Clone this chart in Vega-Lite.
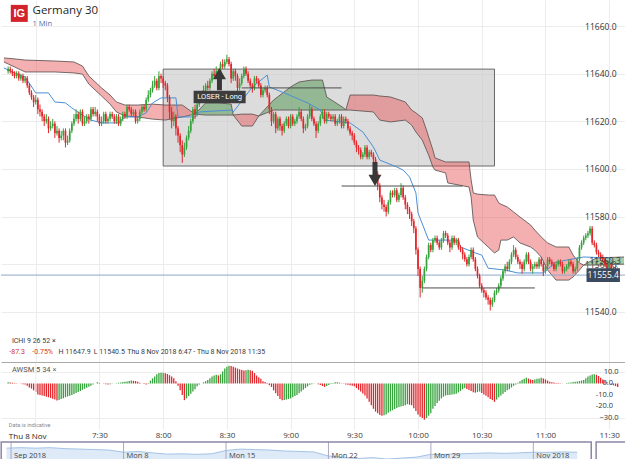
{
"$schema": "https://vega.github.io/schema/vega-lite/v6.json",
"padding": 0,
"spacing": 0,
"background": "#ffffff",
"config": {"view": {"stroke": null}, "font": "Open Sans"},
"vconcat": [
{
"width": 625, "height": 362,
"layer": [
{
"data": {"values": [{"t1":"08:00:00","t2":"10:36:00","p1":11601.2,"p2":11641.9}], "format": {"parse": {"t1":"date:'%H:%M:%S'","t2":"date:'%H:%M:%S'"}}},
"mark": {"type":"rect","fill":"#c6c6c6","fillOpacity":0.62,"stroke":"#6a6a6a","strokeWidth":1},
"encoding": {
"x": {"field":"t1","type":"temporal","scale":{"domain":[{"year":1900,"month":1,"date":1,"hours":6,"minutes":46},{"year":1900,"month":1,"date":1,"hours":11,"minutes":35,"seconds":34}]},
 "axis":{"title":null,"orient":"bottom","labels":false,"ticks":false,"domain":true,"domainColor":"#a9a9a9","grid":true,"gridColor":"#ececec",
 "values":[{"year":1900,"month":1,"date":1,"hours":7,"minutes":0},{"year":1900,"month":1,"date":1,"hours":7,"minutes":30},{"year":1900,"month":1,"date":1,"hours":8,"minutes":0},{"year":1900,"month":1,"date":1,"hours":8,"minutes":30},{"year":1900,"month":1,"date":1,"hours":9,"minutes":0},{"year":1900,"month":1,"date":1,"hours":9,"minutes":30},{"year":1900,"month":1,"date":1,"hours":10,"minutes":0},{"year":1900,"month":1,"date":1,"hours":10,"minutes":30},{"year":1900,"month":1,"date":1,"hours":11,"minutes":0},{"year":1900,"month":1,"date":1,"hours":11,"minutes":30}]}},
"x2": {"field":"t2"},
"y": {"field":"p1","type":"quantitative","scale":{"domain":[11518.9,11670.92],"zero":false,"nice":false},
 "axis":{"title":null,"orient":"right","offset":-10,"values":[11540,11560,11580,11600,11620,11640,11660],"format":".1f","ticks":false,"domain":false,"grid":true,"gridColor":"#ececec","labelFontSize":8.5,"labelColor":"#333333","labelPadding":0,"labelAlign":"right","labelOverlap":false}},
"y2": {"field":"p2"}
}
},
{
"data": {"values": [
{"s":"r1","t":"06:45","hi":11646.6,"lo":11644.9},
{"s":"r1","t":"06:51","hi":11646.1,"lo":11642.4},
{"s":"r1","t":"06:55","hi":11645.7,"lo":11640.7},
{"s":"r1","t":"07:09","hi":11645.3,"lo":11640.7},
{"s":"r1","t":"07:18","hi":11644.9,"lo":11640.3},
{"s":"r1","t":"07:22","hi":11643.2,"lo":11639.8},
{"s":"r1","t":"07:25","hi":11639.0,"lo":11635.6},
{"s":"r1","t":"07:31","hi":11634.0,"lo":11630.6},
{"s":"r1","t":"07:35","hi":11631.0,"lo":11627.2},
{"s":"r1","t":"07:38","hi":11628.1,"lo":11623.9},
{"s":"r1","t":"07:42","hi":11626.8,"lo":11622.2},
{"s":"r1","t":"07:48","hi":11626.8,"lo":11621.8},
{"s":"r1","t":"07:55","hi":11627.2,"lo":11620.9},
{"s":"r1","t":"08:01","hi":11626.8,"lo":11620.5},
{"s":"r1","t":"08:09","hi":11626.8,"lo":11621.8},
{"s":"r1","t":"08:15","hi":11623.0,"lo":11623.0},
{"s":"g1","t":"08:15","hi":11623.0,"lo":11623.0},
{"s":"g1","t":"08:20","hi":11627.7,"lo":11622.6},
{"s":"g1","t":"08:26","hi":11627.7,"lo":11622.6},
{"s":"g1","t":"08:32","hi":11627.2,"lo":11622.6},
{"s":"g1","t":"08:33","hi":11622.6,"lo":11622.6},
{"s":"r2","t":"08:33","hi":11622.6,"lo":11622.6},
{"s":"r2","t":"08:37","hi":11623.0,"lo":11618.0},
{"s":"r2","t":"08:42","hi":11623.0,"lo":11618.0},
{"s":"r2","t":"08:45","hi":11622.2,"lo":11622.2},
{"s":"g2","t":"08:45","hi":11622.2,"lo":11622.2},
{"s":"g2","t":"08:52","hi":11628.9,"lo":11624.7},
{"s":"g2","t":"09:00","hi":11634.4,"lo":11624.7},
{"s":"g2","t":"09:04","hi":11636.5,"lo":11624.7},
{"s":"g2","t":"09:10","hi":11637.3,"lo":11624.7},
{"s":"g2","t":"09:15","hi":11637.3,"lo":11624.7},
{"s":"g2","t":"09:17","hi":11630.2,"lo":11624.7},
{"s":"g2","t":"09:25","hi":11625.6,"lo":11624.7},
{"s":"g2","t":"09:26","hi":11624.7,"lo":11624.7},
{"s":"r3","t":"09:26","hi":11624.7,"lo":11624.7},
{"s":"r3","t":"09:28","hi":11631.0,"lo":11624.7},
{"s":"r3","t":"09:39","hi":11631.0,"lo":11623.9},
{"s":"r3","t":"09:42","hi":11630.6,"lo":11620.5},
{"s":"r3","t":"09:47","hi":11630.2,"lo":11619.7},
{"s":"r3","t":"09:54","hi":11628.1,"lo":11620.5},
{"s":"r3","t":"09:57","hi":11624.7,"lo":11618.4},
{"s":"r3","t":"09:59","hi":11623.5,"lo":11615.5},
{"s":"r3","t":"10:02","hi":11621.4,"lo":11612.1},
{"s":"r3","t":"10:04","hi":11616.3,"lo":11607.9},
{"s":"r3","t":"10:05","hi":11613.4,"lo":11605.8},
{"s":"r3","t":"10:07","hi":11607.9,"lo":11600.8},
{"s":"r3","t":"10:08","hi":11604.6,"lo":11599.5},
{"s":"r3","t":"10:13","hi":11602.9,"lo":11598.3},
{"s":"r3","t":"10:14","hi":11602.9,"lo":11594.1},
{"s":"r3","t":"10:24","hi":11602.9,"lo":11592.4},
{"s":"r3","t":"10:25","hi":11595.3,"lo":11588.2},
{"s":"r3","t":"10:26","hi":11589.9,"lo":11578.5},
{"s":"r3","t":"10:28","hi":11589.4,"lo":11571.4},
{"s":"r3","t":"10:33","hi":11589.0,"lo":11567.2},
{"s":"r3","t":"10:36","hi":11589.0,"lo":11564.7},
{"s":"r3","t":"10:38","hi":11585.7,"lo":11565.9},
{"s":"r3","t":"10:39","hi":11585.2,"lo":11570.1},
{"s":"r3","t":"10:42","hi":11584.0,"lo":11570.1},
{"s":"r3","t":"10:45","hi":11581.9,"lo":11571.4},
{"s":"r3","t":"10:48","hi":11579.8,"lo":11568.9},
{"s":"r3","t":"10:53","hi":11576.4,"lo":11567.2},
{"s":"r3","t":"10:55","hi":11574.3,"lo":11565.9},
{"s":"r3","t":"10:58","hi":11571.4,"lo":11563.0},
{"s":"r3","t":"11:01","hi":11568.9,"lo":11557.5},
{"s":"r3","t":"11:05","hi":11567.2,"lo":11553.3},
{"s":"r3","t":"11:11","hi":11567.2,"lo":11553.3},
{"s":"r3","t":"11:13","hi":11563.8,"lo":11554.6},
{"s":"r3","t":"11:16","hi":11560.5,"lo":11557.5},
{"s":"r3","t":"11:18","hi":11559.6,"lo":11559.6},
{"s":"g3","t":"11:18","hi":11559.6,"lo":11559.6},
{"s":"g3","t":"11:24","hi":11562.6,"lo":11559.6},
{"s":"g3","t":"11:37","hi":11563.0,"lo":11560.0}
], "format": {"parse": {"t":"date:'%H:%M'"}}},
"layer": [
{
"mark": {"type":"area","opacity":0.45,"clip":true},
"encoding": {
"x": {"field":"t","type":"temporal"},
"y": {"field":"hi","type":"quantitative","stack":null},
"y2": {"field":"lo"},
"detail": {"field":"s","type":"nominal"},
"color": {"field":"s","type":"nominal","scale":{"domain":["r1","r2","r3","g1","g2","g3"],"range":["#e65050","#e65050","#e65050","#3c8c3c","#3c8c3c","#3c8c3c"]},"legend":null}
}
},
{
"mark": {"type":"line","color":"#5f5252","strokeWidth":1,"opacity":0.85,"clip":true},
"encoding": {"x": {"field":"t","type":"temporal"},"y": {"field":"hi","type":"quantitative"},"detail": {"field":"s","type":"nominal"}}
},
{
"mark": {"type":"line","color":"#5f5252","strokeWidth":1,"opacity":0.85,"clip":true},
"encoding": {"x": {"field":"t","type":"temporal"},"y": {"field":"lo","type":"quantitative"},"detail": {"field":"s","type":"nominal"}}
}
]
},
{
"data": {"values": [
{"t":"06:45","p":11642.4},{"t":"06:49","p":11640.7},{"t":"06:55","p":11638.6},{"t":"07:00","p":11631.9},
{"t":"07:06","p":11631.9},{"t":"07:09","p":11628.1},{"t":"07:14","p":11627.7},{"t":"07:17","p":11625.6},
{"t":"07:22","p":11622.6},{"t":"07:26","p":11620.5},{"t":"07:31","p":11619.3},{"t":"07:39","p":11619.3},
{"t":"07:42","p":11621.8},{"t":"07:48","p":11621.8},{"t":"07:52","p":11623.5},{"t":"07:55","p":11627.7},
{"t":"07:59","p":11629.8},{"t":"08:06","p":11629.8},{"t":"08:07","p":11621.8},{"t":"08:15","p":11621.8},
{"t":"08:17","p":11623.9},{"t":"08:32","p":11624.7},{"t":"08:33","p":11623.9},{"t":"08:42","p":11634.4},
{"t":"08:49","p":11639.4},{"t":"08:50","p":11634.4},{"t":"08:57","p":11631.9},{"t":"09:08","p":11627.7},
{"t":"09:14","p":11624.7},{"t":"09:16","p":11620.5},{"t":"09:28","p":11619.3},{"t":"09:34","p":11615.5},
{"t":"09:39","p":11609.2},{"t":"09:42","p":11603.7},{"t":"09:50","p":11600.8},{"t":"09:53","p":11599.5},
{"t":"09:56","p":11596.6},{"t":"09:59","p":11589.9},{"t":"10:00","p":11581.5},{"t":"10:05","p":11570.1},
{"t":"10:19","p":11570.1},{"t":"10:20","p":11567.2},{"t":"10:27","p":11564.7},{"t":"10:30","p":11563.8},
{"t":"10:33","p":11558.3},{"t":"10:41","p":11557.5},{"t":"10:47","p":11556.3},{"t":"10:59","p":11556.3},
{"t":"11:05","p":11560.9},{"t":"11:18","p":11563.0},{"t":"11:30","p":11562.6},{"t":"11:34","p":11558.5}
], "format": {"parse": {"t":"date:'%H:%M'"}}},
"mark": {"type":"line","color":"#4a8fd6","strokeWidth":1,"clip":true},
"encoding": {"x": {"field":"t","type":"temporal"},"y": {"field":"p","type":"quantitative"}}
},
{
"data": {"values": [{"p":11555.4}]},
"mark": {"type":"rule","color":"#8fa7c9","strokeWidth":1},
"encoding": {"y": {"field":"p","type":"quantitative"}}
},
{
"data": {"values": [
{"t":"06:47","o":11641,"h":11643,"l":11640,"c":11642},
{"t":"06:48","o":11642,"h":11643,"l":11640,"c":11641},
{"t":"06:49","o":11641,"h":11642,"l":11639,"c":11640},
{"t":"06:50","o":11640,"h":11641,"l":11638,"c":11639},
{"t":"06:51","o":11639,"h":11641,"l":11638,"c":11640},
{"t":"06:52","o":11640,"h":11641,"l":11637,"c":11638},
{"t":"06:53","o":11638,"h":11640,"l":11637,"c":11639},
{"t":"06:54","o":11639,"h":11640,"l":11636,"c":11637},
{"t":"06:55","o":11637,"h":11639,"l":11636,"c":11638},
{"t":"06:56","o":11638,"h":11639,"l":11634,"c":11635},
{"t":"06:57","o":11635,"h":11636,"l":11631,"c":11632},
{"t":"06:58","o":11632,"h":11633,"l":11629,"c":11630},
{"t":"06:59","o":11630,"h":11631,"l":11626,"c":11628},
{"t":"07:00","o":11628,"h":11631,"l":11627,"c":11629},
{"t":"07:01","o":11629,"h":11630,"l":11623,"c":11625},
{"t":"07:02","o":11625,"h":11627,"l":11622,"c":11624},
{"t":"07:03","o":11624,"h":11625,"l":11620,"c":11622},
{"t":"07:04","o":11622,"h":11623,"l":11618,"c":11620},
{"t":"07:05","o":11620,"h":11623,"l":11619,"c":11621},
{"t":"07:06","o":11621,"h":11622,"l":11615,"c":11617},
{"t":"07:07","o":11617,"h":11620,"l":11616,"c":11618},
{"t":"07:08","o":11618,"h":11621,"l":11617,"c":11619},
{"t":"07:09","o":11619,"h":11620,"l":11613,"c":11615},
{"t":"07:10","o":11615,"h":11618,"l":11614,"c":11616},
{"t":"07:11","o":11616,"h":11617,"l":11611,"c":11613},
{"t":"07:12","o":11613,"h":11616,"l":11612,"c":11614},
{"t":"07:13","o":11614,"h":11617,"l":11612,"c":11616},
{"t":"07:14","o":11616,"h":11617,"l":11609,"c":11611},
{"t":"07:15","o":11611,"h":11614,"l":11610,"c":11612},
{"t":"07:16","o":11612,"h":11617,"l":11611,"c":11616},
{"t":"07:17","o":11616,"h":11620,"l":11615,"c":11619},
{"t":"07:18","o":11619,"h":11623,"l":11618,"c":11621},
{"t":"07:19","o":11621,"h":11625,"l":11620,"c":11623},
{"t":"07:20","o":11623,"h":11624,"l":11619,"c":11621},
{"t":"07:21","o":11621,"h":11625,"l":11620,"c":11624},
{"t":"07:22","o":11624,"h":11625,"l":11618,"c":11619},
{"t":"07:23","o":11619,"h":11622,"l":11618,"c":11620},
{"t":"07:24","o":11620,"h":11623,"l":11619,"c":11622},
{"t":"07:25","o":11622,"h":11623,"l":11619,"c":11621},
{"t":"07:26","o":11621,"h":11626,"l":11620,"c":11625},
{"t":"07:27","o":11625,"h":11626,"l":11622,"c":11623},
{"t":"07:28","o":11623,"h":11626,"l":11622,"c":11624},
{"t":"07:29","o":11624,"h":11625,"l":11620,"c":11622},
{"t":"07:30","o":11622,"h":11623,"l":11618,"c":11619},
{"t":"07:31","o":11619,"h":11622,"l":11618,"c":11620},
{"t":"07:32","o":11620,"h":11624,"l":11619,"c":11623},
{"t":"07:33","o":11623,"h":11624,"l":11619,"c":11620},
{"t":"07:34","o":11620,"h":11622,"l":11619,"c":11621},
{"t":"07:35","o":11621,"h":11624,"l":11620,"c":11623},
{"t":"07:36","o":11623,"h":11624,"l":11621,"c":11622},
{"t":"07:37","o":11622,"h":11623,"l":11619,"c":11620},
{"t":"07:38","o":11620,"h":11623,"l":11619,"c":11622},
{"t":"07:39","o":11622,"h":11623,"l":11618,"c":11619},
{"t":"07:40","o":11619,"h":11622,"l":11618,"c":11621},
{"t":"07:41","o":11621,"h":11624,"l":11620,"c":11623},
{"t":"07:42","o":11623,"h":11624,"l":11621,"c":11622},
{"t":"07:43","o":11622,"h":11627,"l":11621,"c":11626},
{"t":"07:44","o":11626,"h":11627,"l":11624,"c":11625},
{"t":"07:45","o":11625,"h":11626,"l":11622,"c":11623},
{"t":"07:46","o":11623,"h":11625,"l":11622,"c":11624},
{"t":"07:47","o":11624,"h":11625,"l":11619,"c":11620},
{"t":"07:48","o":11620,"h":11622,"l":11619,"c":11621},
{"t":"07:49","o":11621,"h":11625,"l":11620,"c":11624},
{"t":"07:50","o":11624,"h":11627,"l":11623,"c":11626},
{"t":"07:51","o":11626,"h":11627,"l":11624,"c":11625},
{"t":"07:52","o":11625,"h":11630,"l":11624,"c":11629},
{"t":"07:53","o":11629,"h":11633,"l":11628,"c":11631},
{"t":"07:54","o":11631,"h":11634,"l":11630,"c":11633},
{"t":"07:55","o":11633,"h":11637,"l":11632,"c":11635},
{"t":"07:56","o":11635,"h":11639,"l":11634,"c":11637},
{"t":"07:57","o":11637,"h":11638,"l":11633,"c":11634},
{"t":"07:58","o":11634,"h":11641,"l":11633,"c":11639},
{"t":"07:59","o":11639,"h":11640,"l":11636,"c":11638},
{"t":"08:00","o":11638,"h":11639,"l":11634,"c":11636},
{"t":"08:01","o":11636,"h":11637,"l":11633,"c":11635},
{"t":"08:02","o":11635,"h":11636,"l":11628,"c":11630},
{"t":"08:03","o":11630,"h":11631,"l":11621,"c":11624},
{"t":"08:04","o":11624,"h":11626,"l":11617,"c":11620},
{"t":"08:05","o":11620,"h":11624,"l":11618,"c":11622},
{"t":"08:06","o":11622,"h":11623,"l":11614,"c":11617},
{"t":"08:07","o":11617,"h":11618,"l":11611,"c":11614},
{"t":"08:08","o":11614,"h":11615,"l":11607,"c":11610},
{"t":"08:09","o":11610,"h":11612,"l":11602.5,"c":11606},
{"t":"08:10","o":11606,"h":11611,"l":11605,"c":11609},
{"t":"08:11","o":11609,"h":11614,"l":11608,"c":11613},
{"t":"08:12","o":11613,"h":11618,"l":11612,"c":11616},
{"t":"08:13","o":11616,"h":11621,"l":11615,"c":11620},
{"t":"08:14","o":11620,"h":11626,"l":11619,"c":11625},
{"t":"08:15","o":11625,"h":11627,"l":11621,"c":11623},
{"t":"08:16","o":11623,"h":11628,"l":11622,"c":11627},
{"t":"08:17","o":11627,"h":11631,"l":11626,"c":11629},
{"t":"08:18","o":11629,"h":11632,"l":11628,"c":11631},
{"t":"08:19","o":11631,"h":11635,"l":11630,"c":11633},
{"t":"08:20","o":11633,"h":11636,"l":11632,"c":11635},
{"t":"08:21","o":11635,"h":11637,"l":11633,"c":11634},
{"t":"08:22","o":11634,"h":11638,"l":11633,"c":11637},
{"t":"08:23","o":11637,"h":11641,"l":11636,"c":11640},
{"t":"08:24","o":11640,"h":11642,"l":11638,"c":11639},
{"t":"08:25","o":11639,"h":11643,"l":11638,"c":11641},
{"t":"08:26","o":11641,"h":11642,"l":11637,"c":11639},
{"t":"08:27","o":11639,"h":11645,"l":11638,"c":11644},
{"t":"08:28","o":11644,"h":11646,"l":11642,"c":11643},
{"t":"08:29","o":11643,"h":11646,"l":11642,"c":11645},
{"t":"08:30","o":11645,"h":11647.9,"l":11644,"c":11646},
{"t":"08:31","o":11646,"h":11647,"l":11643,"c":11644},
{"t":"08:32","o":11644,"h":11645,"l":11636,"c":11638},
{"t":"08:33","o":11638,"h":11642,"l":11637,"c":11641},
{"t":"08:34","o":11641,"h":11642,"l":11637,"c":11639},
{"t":"08:35","o":11639,"h":11640,"l":11632,"c":11634},
{"t":"08:36","o":11634,"h":11638,"l":11633,"c":11636},
{"t":"08:37","o":11636,"h":11640,"l":11635,"c":11639},
{"t":"08:38","o":11639,"h":11643,"l":11638,"c":11642},
{"t":"08:39","o":11642,"h":11643,"l":11639,"c":11640},
{"t":"08:40","o":11640,"h":11641,"l":11636,"c":11637},
{"t":"08:41","o":11637,"h":11638,"l":11634,"c":11635},
{"t":"08:42","o":11635,"h":11636,"l":11632,"c":11634},
{"t":"08:43","o":11634,"h":11639,"l":11633,"c":11638},
{"t":"08:44","o":11638,"h":11639,"l":11636,"c":11637},
{"t":"08:45","o":11637,"h":11638,"l":11634,"c":11635},
{"t":"08:46","o":11635,"h":11636,"l":11630,"c":11631},
{"t":"08:47","o":11631,"h":11634,"l":11630,"c":11633},
{"t":"08:48","o":11633,"h":11635,"l":11632,"c":11634},
{"t":"08:49","o":11634,"h":11635,"l":11630,"c":11631},
{"t":"08:50","o":11631,"h":11632,"l":11623,"c":11625},
{"t":"08:51","o":11625,"h":11626,"l":11618,"c":11620},
{"t":"08:52","o":11620,"h":11624,"l":11619,"c":11623},
{"t":"08:53","o":11623,"h":11624,"l":11615,"c":11617},
{"t":"08:54","o":11617,"h":11622,"l":11616,"c":11621},
{"t":"08:55","o":11621,"h":11622,"l":11616,"c":11618},
{"t":"08:56","o":11618,"h":11619,"l":11614,"c":11616},
{"t":"08:57","o":11616,"h":11620,"l":11615,"c":11619},
{"t":"08:58","o":11619,"h":11622,"l":11618,"c":11621},
{"t":"08:59","o":11621,"h":11622,"l":11617,"c":11618},
{"t":"09:00","o":11618,"h":11623,"l":11617,"c":11622},
{"t":"09:01","o":11622,"h":11623,"l":11618,"c":11619},
{"t":"09:02","o":11619,"h":11621,"l":11618,"c":11620},
{"t":"09:03","o":11620,"h":11623,"l":11619,"c":11622},
{"t":"09:04","o":11622,"h":11626,"l":11621,"c":11624},
{"t":"09:05","o":11624,"h":11625,"l":11620,"c":11621},
{"t":"09:06","o":11621,"h":11622,"l":11615,"c":11617},
{"t":"09:07","o":11617,"h":11619,"l":11616,"c":11618},
{"t":"09:08","o":11618,"h":11623,"l":11617,"c":11622},
{"t":"09:09","o":11622,"h":11627,"l":11621,"c":11625},
{"t":"09:10","o":11625,"h":11626,"l":11620,"c":11621},
{"t":"09:11","o":11621,"h":11622,"l":11618,"c":11619},
{"t":"09:12","o":11619,"h":11620,"l":11613,"c":11616},
{"t":"09:13","o":11616,"h":11620,"l":11615,"c":11619},
{"t":"09:14","o":11619,"h":11623,"l":11618,"c":11622},
{"t":"09:15","o":11622,"h":11625,"l":11621,"c":11624},
{"t":"09:16","o":11624,"h":11625,"l":11619,"c":11620},
{"t":"09:17","o":11620,"h":11624,"l":11619,"c":11623},
{"t":"09:18","o":11623,"h":11624,"l":11621,"c":11622},
{"t":"09:19","o":11622,"h":11623,"l":11620,"c":11621},
{"t":"09:20","o":11621,"h":11623,"l":11620,"c":11622},
{"t":"09:21","o":11622,"h":11623,"l":11618,"c":11619},
{"t":"09:22","o":11619,"h":11621,"l":11618,"c":11620},
{"t":"09:23","o":11620,"h":11623,"l":11619,"c":11622},
{"t":"09:24","o":11622,"h":11623,"l":11617,"c":11618},
{"t":"09:25","o":11618,"h":11622,"l":11617,"c":11621},
{"t":"09:26","o":11621,"h":11622,"l":11619,"c":11620},
{"t":"09:27","o":11620,"h":11621,"l":11616,"c":11617},
{"t":"09:28","o":11617,"h":11618,"l":11614,"c":11615},
{"t":"09:29","o":11615,"h":11616,"l":11612,"c":11614},
{"t":"09:30","o":11614,"h":11615,"l":11610,"c":11611},
{"t":"09:31","o":11611,"h":11612,"l":11607,"c":11609},
{"t":"09:32","o":11609,"h":11610,"l":11606,"c":11608},
{"t":"09:33","o":11608,"h":11609,"l":11604,"c":11605},
{"t":"09:34","o":11605,"h":11607,"l":11604,"c":11606},
{"t":"09:35","o":11606,"h":11610,"l":11605,"c":11609},
{"t":"09:36","o":11609,"h":11610,"l":11604,"c":11605},
{"t":"09:37","o":11605,"h":11608,"l":11604,"c":11607},
{"t":"09:38","o":11607,"h":11608,"l":11605,"c":11606},
{"t":"09:39","o":11606,"h":11607,"l":11602,"c":11604},
{"t":"09:40","o":11604,"h":11605,"l":11596,"c":11598},
{"t":"09:41","o":11598,"h":11599,"l":11591,"c":11593},
{"t":"09:42","o":11593,"h":11594,"l":11586,"c":11588},
{"t":"09:43","o":11588,"h":11589,"l":11583,"c":11585},
{"t":"09:44","o":11585,"h":11587,"l":11582,"c":11584},
{"t":"09:45","o":11584,"h":11585,"l":11580,"c":11582},
{"t":"09:46","o":11582,"h":11587,"l":11581,"c":11586},
{"t":"09:47","o":11586,"h":11591,"l":11585,"c":11590},
{"t":"09:48","o":11590,"h":11591,"l":11588,"c":11589},
{"t":"09:49","o":11589,"h":11592,"l":11588,"c":11591},
{"t":"09:50","o":11591,"h":11592,"l":11586,"c":11587},
{"t":"09:51","o":11587,"h":11590,"l":11586,"c":11589},
{"t":"09:52","o":11589,"h":11594,"l":11588,"c":11592},
{"t":"09:53","o":11592,"h":11593,"l":11587,"c":11588},
{"t":"09:54","o":11588,"h":11589,"l":11583,"c":11585},
{"t":"09:55","o":11585,"h":11586,"l":11581,"c":11583},
{"t":"09:56","o":11583,"h":11584,"l":11579,"c":11581},
{"t":"09:57","o":11581,"h":11582,"l":11576,"c":11578},
{"t":"09:58","o":11578,"h":11579,"l":11573,"c":11575},
{"t":"09:59","o":11575,"h":11576,"l":11564,"c":11566},
{"t":"10:00","o":11566,"h":11567,"l":11555,"c":11558},
{"t":"10:01","o":11558,"h":11559,"l":11546,"c":11550},
{"t":"10:02","o":11550,"h":11555,"l":11548,"c":11553},
{"t":"10:03","o":11553,"h":11559,"l":11552,"c":11558},
{"t":"10:04","o":11558,"h":11564,"l":11557,"c":11563},
{"t":"10:05","o":11563,"h":11569,"l":11562,"c":11568},
{"t":"10:06","o":11568,"h":11569,"l":11565,"c":11566},
{"t":"10:07","o":11566,"h":11571,"l":11565,"c":11570},
{"t":"10:08","o":11570,"h":11572,"l":11569,"c":11571},
{"t":"10:09","o":11571,"h":11572,"l":11568,"c":11569},
{"t":"10:10","o":11569,"h":11570,"l":11566,"c":11567},
{"t":"10:11","o":11567,"h":11571,"l":11566,"c":11570},
{"t":"10:12","o":11570,"h":11574,"l":11569,"c":11573},
{"t":"10:13","o":11573,"h":11574,"l":11571,"c":11572},
{"t":"10:14","o":11572,"h":11573,"l":11568,"c":11569},
{"t":"10:15","o":11569,"h":11570,"l":11565,"c":11567},
{"t":"10:16","o":11567,"h":11572,"l":11566,"c":11571},
{"t":"10:17","o":11571,"h":11572,"l":11568,"c":11569},
{"t":"10:18","o":11569,"h":11571,"l":11568,"c":11570},
{"t":"10:19","o":11570,"h":11571,"l":11566,"c":11567},
{"t":"10:20","o":11567,"h":11568,"l":11565,"c":11566},
{"t":"10:21","o":11566,"h":11567,"l":11562,"c":11564},
{"t":"10:22","o":11564,"h":11565,"l":11561,"c":11562},
{"t":"10:23","o":11562,"h":11563,"l":11559,"c":11560},
{"t":"10:24","o":11560,"h":11564,"l":11559,"c":11563},
{"t":"10:25","o":11563,"h":11567,"l":11562,"c":11566},
{"t":"10:26","o":11566,"h":11567,"l":11561,"c":11562},
{"t":"10:27","o":11562,"h":11563,"l":11557,"c":11558},
{"t":"10:28","o":11558,"h":11559,"l":11554,"c":11555},
{"t":"10:29","o":11555,"h":11556,"l":11550,"c":11551},
{"t":"10:30","o":11551,"h":11552,"l":11548,"c":11549},
{"t":"10:31","o":11549,"h":11550,"l":11546,"c":11548},
{"t":"10:32","o":11548,"h":11549,"l":11545,"c":11546},
{"t":"10:33","o":11546,"h":11547,"l":11543,"c":11545},
{"t":"10:34","o":11545,"h":11546,"l":11540.5,"c":11543},
{"t":"10:35","o":11543,"h":11546,"l":11542,"c":11545},
{"t":"10:36","o":11545,"h":11549,"l":11544,"c":11548},
{"t":"10:37","o":11548,"h":11550,"l":11547,"c":11549},
{"t":"10:38","o":11549,"h":11552,"l":11548,"c":11551},
{"t":"10:39","o":11551,"h":11555,"l":11550,"c":11554},
{"t":"10:40","o":11554,"h":11558,"l":11553,"c":11557},
{"t":"10:41","o":11557,"h":11560,"l":11556,"c":11559},
{"t":"10:42","o":11559,"h":11561,"l":11557,"c":11558},
{"t":"10:43","o":11558,"h":11562,"l":11557,"c":11561},
{"t":"10:44","o":11561,"h":11565,"l":11560,"c":11564},
{"t":"10:45","o":11564,"h":11568,"l":11563,"c":11566},
{"t":"10:46","o":11566,"h":11567,"l":11562,"c":11563},
{"t":"10:47","o":11563,"h":11564,"l":11560,"c":11561},
{"t":"10:48","o":11561,"h":11562,"l":11558,"c":11560},
{"t":"10:49","o":11560,"h":11561,"l":11556,"c":11558},
{"t":"10:50","o":11558,"h":11562,"l":11557,"c":11561},
{"t":"10:51","o":11561,"h":11565,"l":11560,"c":11564},
{"t":"10:52","o":11564,"h":11565,"l":11560,"c":11561},
{"t":"10:53","o":11561,"h":11562,"l":11557,"c":11558},
{"t":"10:54","o":11558,"h":11560,"l":11556,"c":11559},
{"t":"10:55","o":11559,"h":11561,"l":11558,"c":11560},
{"t":"10:56","o":11560,"h":11561,"l":11558,"c":11559},
{"t":"10:57","o":11559,"h":11563,"l":11558,"c":11562},
{"t":"10:58","o":11562,"h":11563,"l":11559,"c":11560},
{"t":"10:59","o":11560,"h":11561,"l":11555,"c":11557},
{"t":"11:00","o":11557,"h":11560,"l":11556,"c":11559},
{"t":"11:01","o":11559,"h":11563,"l":11558,"c":11562},
{"t":"11:02","o":11562,"h":11563,"l":11560,"c":11561},
{"t":"11:03","o":11561,"h":11562,"l":11559,"c":11560},
{"t":"11:04","o":11560,"h":11561,"l":11557,"c":11558},
{"t":"11:05","o":11558,"h":11561,"l":11557,"c":11560},
{"t":"11:06","o":11560,"h":11562,"l":11559,"c":11561},
{"t":"11:07","o":11561,"h":11562,"l":11559,"c":11560},
{"t":"11:08","o":11560,"h":11561,"l":11556,"c":11557},
{"t":"11:09","o":11557,"h":11559,"l":11556,"c":11558},
{"t":"11:10","o":11558,"h":11560,"l":11557,"c":11559},
{"t":"11:11","o":11559,"h":11562,"l":11558,"c":11561},
{"t":"11:12","o":11561,"h":11562,"l":11559,"c":11560},
{"t":"11:13","o":11560,"h":11561,"l":11556,"c":11557},
{"t":"11:14","o":11557,"h":11559,"l":11556,"c":11558},
{"t":"11:15","o":11558,"h":11563,"l":11557,"c":11562},
{"t":"11:16","o":11562,"h":11568,"l":11561,"c":11567},
{"t":"11:17","o":11567,"h":11570,"l":11566,"c":11569},
{"t":"11:18","o":11569,"h":11572,"l":11568,"c":11571},
{"t":"11:19","o":11571,"h":11573,"l":11570,"c":11572},
{"t":"11:20","o":11572,"h":11574,"l":11571,"c":11573},
{"t":"11:21","o":11573,"h":11576,"l":11572,"c":11575},
{"t":"11:22","o":11575,"h":11576,"l":11568,"c":11569},
{"t":"11:23","o":11569,"h":11570,"l":11567,"c":11568},
{"t":"11:24","o":11568,"h":11569,"l":11564,"c":11565},
{"t":"11:25","o":11565,"h":11566,"l":11563,"c":11564},
{"t":"11:26","o":11564,"h":11565,"l":11562,"c":11563},
{"t":"11:27","o":11563,"h":11564,"l":11561,"c":11562},
{"t":"11:28","o":11562,"h":11563,"l":11559,"c":11560},
{"t":"11:29","o":11560,"h":11561,"l":11557,"c":11558},
{"t":"11:30","o":11558,"h":11561,"l":11557,"c":11560},
{"t":"11:31","o":11560,"h":11561,"l":11556,"c":11557},
{"t":"11:32","o":11557,"h":11559,"l":11556,"c":11558},
{"t":"11:33","o":11558,"h":11559,"l":11555,"c":11557},
{"t":"11:34","o":11557,"h":11558,"l":11553,"c":11555.4}
], "format": {"parse": {"t":"date:'%H:%M'"}}},
"layer": [
{
"mark": {"type":"rule","strokeWidth":1},
"encoding": {
"x": {"field":"t","type":"temporal"},
"y": {"field":"l","type":"quantitative"},
"y2": {"field":"h"},
"color": {"condition":{"test":"datum.c >= datum.o","value":"#35a23c"},"value":"#e3262b"}
}
},
{
"mark": {"type":"bar","size":1.7},
"encoding": {
"x": {"field":"t","type":"temporal"},
"y": {"field":"o","type":"quantitative"},
"y2": {"field":"c"},
"color": {"condition":{"test":"datum.c >= datum.o","value":"#35a23c"},"value":"#e3262b"}
}
}
]
},
{
"data": {"values": [
 {"t1":"08:37:00","t2":"09:24:00","p":11634.0},
 {"t1":"09:24:00","t2":"10:21:00","p":11592.8},
 {"t1":"10:02:00","t2":"10:55:00","p":11550.0}
], "format": {"parse": {"t1":"date:'%H:%M:%S'","t2":"date:'%H:%M:%S'"}}},
"mark": {"type":"rule","color":"#4d4d4d","strokeWidth":1},
"encoding": {"x": {"field":"t1","type":"temporal"},"x2": {"field":"t2"},"y": {"field":"p","type":"quantitative"}}
},
{
"data": {"values": [
 {"t":"08:26:30","p1":11633.0,"p2":11638.6},
 {"t":"09:39:44","p1":11597.3,"p2":11602.9}
], "format": {"parse": {"t":"date:'%H:%M:%S'"}}},
"mark": {"type":"rule","color":"#383838","strokeWidth":5},
"encoding": {"x": {"field":"t","type":"temporal"},"y": {"field":"p1","type":"quantitative"},"y2": {"field":"p2"}}
},
{
"data": {"values": [{"t":"08:26:30","p":11640.0}], "format": {"parse": {"t":"date:'%H:%M:%S'"}}},
"mark": {"type":"point","shape":"triangle-up","filled":true,"size":170,"color":"#383838","opacity":1},
"encoding": {"x": {"field":"t","type":"temporal"},"y": {"field":"p","type":"quantitative"}}
},
{
"data": {"values": [{"t":"09:39:44","p":11595.2}], "format": {"parse": {"t":"date:'%H:%M:%S'"}}},
"mark": {"type":"point","shape":"triangle-down","filled":true,"size":170,"color":"#383838","opacity":1},
"encoding": {"x": {"field":"t","type":"temporal"},"y": {"field":"p","type":"quantitative"}}
},
{
"data": {"values": [{"t1":"08:14:20","t2":"08:38:50","p1":11627.6,"p2":11632.8}], "format": {"parse": {"t1":"date:'%H:%M:%S'","t2":"date:'%H:%M:%S'"}}},
"mark": {"type":"rect","fill":"#3d3d3d"},
"encoding": {"x": {"field":"t1","type":"temporal"},"x2": {"field":"t2"},"y": {"field":"p1","type":"quantitative"},"y2": {"field":"p2"}}
},
{
"data": {"values": [{"t":"08:26:35","p":11630.2,"txt":"LOSER - Long"}], "format": {"parse": {"t":"date:'%H:%M:%S'"}}},
"mark": {"type":"text","color":"#ffffff","fontSize":7.5,"font":"Roboto","align":"center","baseline":"middle"},
"encoding": {"x": {"field":"t","type":"temporal"},"y": {"field":"p","type":"quantitative"},"text": {"field":"txt","type":"nominal"}}
},
{
"data": {"values": [{"t":"11:20:42","p":11561.2,"txt":"11560.3"}], "format": {"parse": {"t":"date:'%H:%M:%S'"}}},
"mark": {"type":"text","color":"#333333","fontSize":8.5,"align":"left","baseline":"middle"},
"encoding": {"x": {"field":"t","type":"temporal"},"y": {"field":"p","type":"quantitative"},"text": {"field":"txt","type":"nominal"}}
},
{
"data": {"values": [{"t1":"11:19:20","t2":"11:35:04","p1":11552.5,"p2":11558.3}], "format": {"parse": {"t1":"date:'%H:%M:%S'","t2":"date:'%H:%M:%S'"}}},
"mark": {"type":"rect","fill":"#3b4b5f"},
"encoding": {"x": {"field":"t1","type":"temporal"},"x2": {"field":"t2"},"y": {"field":"p1","type":"quantitative"},"y2": {"field":"p2"}}
},
{
"data": {"values": [{"t":"11:27:12","p":11555.4,"txt":"11555.4"}], "format": {"parse": {"t":"date:'%H:%M:%S'"}}},
"mark": {"type":"text","color":"#ffffff","fontSize":8.5,"align":"center","baseline":"middle"},
"encoding": {"x": {"field":"t","type":"temporal"},"y": {"field":"p","type":"quantitative"},"text": {"field":"txt","type":"nominal"}}
},
{
"data": {"values": [{"t":"06:52:15","p":11665.3}], "format": {"parse": {"t":"date:'%H:%M:%S'"}}},
"mark": {"type":"square","size":289,"color":"#d3232a","opacity":1},
"encoding": {"x": {"field":"t","type":"temporal"},"y": {"field":"p","type":"quantitative"}}
},
{
"data": {"values": [{"t":"06:52:15","p":11665.3,"txt":"IG"}], "format": {"parse": {"t":"date:'%H:%M:%S'"}}},
"mark": {"type":"text","color":"#ffffff","fontSize":11,"fontWeight":"bold","font":"Liberation Sans","align":"center","baseline":"middle","dy":1},
"encoding": {"x": {"field":"t","type":"temporal"},"y": {"field":"p","type":"quantitative"},"text": {"field":"txt","type":"nominal"}}
},
{
"data": {"values": [{"t":"06:58:30","p":11666.2,"txt":"Germany 30"}], "format": {"parse": {"t":"date:'%H:%M:%S'"}}},
"mark": {"type":"text","align":"left","baseline":"middle","fontSize":11.5,"color":"#1f1f1f"},
"encoding": {"x": {"field":"t","type":"temporal"},"y": {"field":"p","type":"quantitative"},"text": {"field":"txt","type":"nominal"}}
},
{
"data": {"values": [{"t":"06:58:30","p":11660.7,"txt":"1 Min"}], "format": {"parse": {"t":"date:'%H:%M:%S'"}}},
"mark": {"type":"text","align":"left","baseline":"middle","fontSize":7.5,"color":"#4a72a0"},
"encoding": {"x": {"field":"t","type":"temporal"},"y": {"field":"p","type":"quantitative"},"text": {"field":"txt","type":"nominal"}}
},
{
"data": {"values": [
 {"t":"06:48:47","p":11527.7,"txt":"ICHI  9  26  52  ×"},
 {"t":"07:10:41","p":11523.1,"txt":"H 11647.9"},
 {"t":"07:27:22","p":11523.1,"txt":"L 11540.5"},
 {"t":"07:43:07","p":11523.1,"txt":"Thu 8 Nov 2018 6:47 - Thu 8 Nov 2018 11:35"}
], "format": {"parse": {"t":"date:'%H:%M:%S'"}}},
"mark": {"type":"text","align":"left","baseline":"middle","fontSize":7,"font":"Roboto","color":"#3a3a3a"},
"encoding": {"x": {"field":"t","type":"temporal"},"y": {"field":"p","type":"quantitative"},"text": {"field":"txt","type":"nominal"}}
},
{
"data": {"values": [
 {"t":"06:47:32","p":11523.1,"txt":"-87.3"},
 {"t":"06:58:22","p":11523.1,"txt":"-0.75%"}
], "format": {"parse": {"t":"date:'%H:%M:%S'"}}},
"mark": {"type":"text","align":"left","baseline":"middle","fontSize":7,"font":"Roboto","color":"#d9342b"},
"encoding": {"x": {"field":"t","type":"temporal"},"y": {"field":"p","type":"quantitative"},"text": {"field":"txt","type":"nominal"}}
}
]
},
{
"width": 625, "height": 66,
"layer": [
{
"data": {"values": [
{"t":"06:47","a":1},{"t":"06:48","a":0.8},{"t":"06:49","a":0.6},{"t":"06:50","a":0.4},{"t":"06:51","a":0.2},{"t":"06:52","a":0},{"t":"06:53","a":-0.3},{"t":"06:54","a":-0.6},{"t":"06:55","a":-1},{"t":"06:56","a":-2},
{"t":"06:57","a":-3.5},{"t":"06:58","a":-4.5},{"t":"06:59","a":-6},{"t":"07:00","a":-7.5},{"t":"07:01","a":-9.5},{"t":"07:02","a":-10},{"t":"07:03","a":-10.5},{"t":"07:04","a":-11},{"t":"07:05","a":-11.5},{"t":"07:06","a":-12},
{"t":"07:07","a":-12.5},{"t":"07:08","a":-13.3},{"t":"07:09","a":-14},{"t":"07:10","a":-14.8},{"t":"07:11","a":-14.3},{"t":"07:12","a":-13.6},{"t":"07:13","a":-12.8},{"t":"07:14","a":-12},{"t":"07:15","a":-11.3},{"t":"07:16","a":-10.6},
{"t":"07:17","a":-10},{"t":"07:18","a":-9.2},{"t":"07:19","a":-8.3},{"t":"07:20","a":-7.4},{"t":"07:21","a":-6.5},{"t":"07:22","a":-5.5},{"t":"07:23","a":-4.6},{"t":"07:24","a":-3.8},{"t":"07:25","a":-2.9},{"t":"07:26","a":-2},
{"t":"07:27","a":-1},{"t":"07:28","a":0},{"t":"07:29","a":1},{"t":"07:30","a":0.5},{"t":"07:31","a":0},{"t":"07:32","a":-0.3},{"t":"07:33","a":-0.6},{"t":"07:34","a":-1},{"t":"07:35","a":-0.6},{"t":"07:36","a":-0.3},
{"t":"07:37","a":0},{"t":"07:38","a":0.3},{"t":"07:39","a":0.6},{"t":"07:40","a":0.9},{"t":"07:41","a":1.2},{"t":"07:42","a":1.5},{"t":"07:43","a":1.8},{"t":"07:44","a":2.2},{"t":"07:45","a":2.5},{"t":"07:46","a":2.3},
{"t":"07:47","a":2.1},{"t":"07:48","a":1.5},{"t":"07:49","a":0.7},{"t":"07:50","a":0},{"t":"07:51","a":-0.5},{"t":"07:52","a":-1},{"t":"07:53","a":0.5},{"t":"07:54","a":2.5},{"t":"07:55","a":4.5},{"t":"07:56","a":6},
{"t":"07:57","a":8},{"t":"07:58","a":9},{"t":"07:59","a":9.3},{"t":"08:00","a":9.4},{"t":"08:01","a":8.8},{"t":"08:02","a":8.2},{"t":"08:03","a":7.2},{"t":"08:04","a":6},{"t":"08:05","a":4.5},{"t":"08:06","a":2},
{"t":"08:07","a":-2},{"t":"08:08","a":-6},{"t":"08:09","a":-10},{"t":"08:10","a":-14.5},{"t":"08:11","a":-13},{"t":"08:12","a":-11},{"t":"08:13","a":-9},{"t":"08:14","a":-7},{"t":"08:15","a":-5},{"t":"08:16","a":-2.5},
{"t":"08:17","a":-1},{"t":"08:18","a":0},{"t":"08:19","a":1},{"t":"08:20","a":2},{"t":"08:21","a":3},{"t":"08:22","a":4.5},{"t":"08:23","a":6},{"t":"08:24","a":7},{"t":"08:25","a":7.5},{"t":"08:26","a":7},
{"t":"08:27","a":8},{"t":"08:28","a":10.5},{"t":"08:29","a":13},{"t":"08:30","a":14.5},{"t":"08:31","a":15.5},{"t":"08:32","a":15.2},{"t":"08:33","a":14.5},{"t":"08:34","a":13.8},{"t":"08:35","a":13},{"t":"08:36","a":12.3},
{"t":"08:37","a":11.8},{"t":"08:38","a":11.2},{"t":"08:39","a":11.5},{"t":"08:40","a":12},{"t":"08:41","a":11.6},{"t":"08:42","a":11},{"t":"08:43","a":9},{"t":"08:44","a":7},{"t":"08:45","a":5.5},{"t":"08:46","a":4},
{"t":"08:47","a":2},{"t":"08:48","a":1.2},{"t":"08:49","a":0.4},{"t":"08:50","a":-1.5},{"t":"08:51","a":-3},{"t":"08:52","a":-6},{"t":"08:53","a":-8.5},{"t":"08:54","a":-11},{"t":"08:55","a":-13.5},{"t":"08:56","a":-14.5},
{"t":"08:57","a":-14.3},{"t":"08:58","a":-14},{"t":"08:59","a":-13.5},{"t":"09:00","a":-13},{"t":"09:01","a":-12},{"t":"09:02","a":-11},{"t":"09:03","a":-10},{"t":"09:04","a":-8.5},{"t":"09:05","a":-7},{"t":"09:06","a":-5.5},
{"t":"09:07","a":-4},{"t":"09:08","a":-2.5},{"t":"09:09","a":-1.2},{"t":"09:10","a":-0.6},{"t":"09:11","a":-0.2},{"t":"09:12","a":0},{"t":"09:13","a":-0.6},{"t":"09:14","a":-1.4},{"t":"09:15","a":-2.2},{"t":"09:16","a":-3},
{"t":"09:17","a":-2.2},{"t":"09:18","a":-1.4},{"t":"09:19","a":-0.5},{"t":"09:20","a":0.5},{"t":"09:21","a":1},{"t":"09:22","a":1},{"t":"09:23","a":0.7},{"t":"09:24","a":0.2},{"t":"09:25","a":-0.3},{"t":"09:26","a":-0.8},
{"t":"09:27","a":-1.2},{"t":"09:28","a":-1.5},{"t":"09:29","a":-1.9},{"t":"09:30","a":-2.5},{"t":"09:31","a":-4},{"t":"09:32","a":-5.5},{"t":"09:33","a":-7},{"t":"09:34","a":-8.8},{"t":"09:35","a":-10.5},{"t":"09:36","a":-13},
{"t":"09:37","a":-16},{"t":"09:38","a":-19},{"t":"09:39","a":-22},{"t":"09:40","a":-24.5},{"t":"09:41","a":-26},{"t":"09:42","a":-27.5},{"t":"09:43","a":-28},{"t":"09:44","a":-27.6},{"t":"09:45","a":-27},{"t":"09:46","a":-25.5},
{"t":"09:47","a":-24.3},{"t":"09:48","a":-23.3},{"t":"09:49","a":-22.3},{"t":"09:50","a":-21.3},{"t":"09:51","a":-20.5},{"t":"09:52","a":-20},{"t":"09:53","a":-19.5},{"t":"09:54","a":-19},{"t":"09:55","a":-18},{"t":"09:56","a":-18.5},
{"t":"09:57","a":-19},{"t":"09:58","a":-21.5},{"t":"09:59","a":-24},{"t":"10:00","a":-27},{"t":"10:01","a":-29},{"t":"10:02","a":-30},{"t":"10:03","a":-31.5},{"t":"10:04","a":-30},{"t":"10:05","a":-28},{"t":"10:06","a":-26},
{"t":"10:07","a":-22},{"t":"10:08","a":-19.5},{"t":"10:09","a":-17},{"t":"10:10","a":-15},{"t":"10:11","a":-13},{"t":"10:12","a":-11.5},{"t":"10:13","a":-10.5},{"t":"10:14","a":-10},{"t":"10:15","a":-10},{"t":"10:16","a":-9.7},
{"t":"10:17","a":-9.3},{"t":"10:18","a":-9},{"t":"10:19","a":-7.8},{"t":"10:20","a":-6.5},{"t":"10:21","a":-5},{"t":"10:22","a":-4},{"t":"10:23","a":-4.8},{"t":"10:24","a":-5.7},{"t":"10:25","a":-6.6},{"t":"10:26","a":-7.6},
{"t":"10:27","a":-8},{"t":"10:28","a":-7.5},{"t":"10:29","a":-7},{"t":"10:30","a":-8.3},{"t":"10:31","a":-9.5},{"t":"10:32","a":-10.7},{"t":"10:33","a":-12},{"t":"10:34","a":-13.5},{"t":"10:35","a":-14.5},{"t":"10:36","a":-16},
{"t":"10:37","a":-14},{"t":"10:38","a":-12},{"t":"10:39","a":-10.5},{"t":"10:40","a":-9},{"t":"10:41","a":-7.5},{"t":"10:42","a":-6},{"t":"10:43","a":-5},{"t":"10:44","a":-3.5},{"t":"10:45","a":-2},{"t":"10:46","a":-0.8},
{"t":"10:47","a":0.6},{"t":"10:48","a":2},{"t":"10:49","a":3.2},{"t":"10:50","a":4},{"t":"10:51","a":5},{"t":"10:52","a":4.3},{"t":"10:53","a":3.5},{"t":"10:54","a":3},{"t":"10:55","a":3.5},{"t":"10:56","a":4},
{"t":"10:57","a":4.4},{"t":"10:58","a":5},{"t":"10:59","a":4.4},{"t":"11:00","a":3.5},{"t":"11:01","a":2.5},{"t":"11:02","a":1.5},{"t":"11:03","a":1},{"t":"11:04","a":0.8},{"t":"11:05","a":0.5},{"t":"11:06","a":0.3},
{"t":"11:07","a":0.2},{"t":"11:08","a":0.1},{"t":"11:09","a":0},{"t":"11:10","a":0.3},{"t":"11:11","a":0.6},{"t":"11:12","a":0.9},{"t":"11:13","a":1.2},{"t":"11:14","a":1.5},{"t":"11:15","a":1.8},{"t":"11:16","a":2.1},
{"t":"11:17","a":2.6},{"t":"11:18","a":3},{"t":"11:19","a":4.5},{"t":"11:20","a":6},{"t":"11:21","a":7},{"t":"11:22","a":7.8},{"t":"11:23","a":8},{"t":"11:24","a":7.5},{"t":"11:25","a":6.5},{"t":"11:26","a":5},
{"t":"11:27","a":3.5},{"t":"11:28","a":2},{"t":"11:29","a":1},{"t":"11:30","a":0},{"t":"11:31","a":-0.8},{"t":"11:32","a":-1.6},{"t":"11:33","a":-2.3},{"t":"11:34","a":-3}
], "format": {"parse": {"t":"date:'%H:%M'"}}},
"transform": [{"window":[{"op":"lag","field":"a","as":"pa"}],"sort":[{"field":"t"}]}],
"mark": {"type":"bar","size":1.3},
"encoding": {
"x": {"field":"t","type":"temporal","scale":{"domain":[{"year":1900,"month":1,"date":1,"hours":6,"minutes":46},{"year":1900,"month":1,"date":1,"hours":11,"minutes":35,"seconds":34}]},
 "axis":{"title":null,"orient":"bottom","grid":true,"gridColor":"#ececec","ticks":false,"domain":false,"labelFontSize":8,"labelColor":"#3a3a3a","labelPadding":2,"labelOverlap":false,"labelFlush":false,"format":"%-H:%M",
 "values":[{"year":1900,"month":1,"date":1,"hours":7,"minutes":30},{"year":1900,"month":1,"date":1,"hours":8,"minutes":0},{"year":1900,"month":1,"date":1,"hours":8,"minutes":30},{"year":1900,"month":1,"date":1,"hours":9,"minutes":0},{"year":1900,"month":1,"date":1,"hours":9,"minutes":30},{"year":1900,"month":1,"date":1,"hours":10,"minutes":0},{"year":1900,"month":1,"date":1,"hours":10,"minutes":30},{"year":1900,"month":1,"date":1,"hours":11,"minutes":0},{"year":1900,"month":1,"date":1,"hours":11,"minutes":30}]}},
"y": {"field":"a","type":"quantitative","scale":{"domain":[-39.6,17.8],"zero":false,"nice":false},
 "axis":{"title":null,"orient":"right","offset":-8,"values":[10,0,-10,-20,-30],"format":".1f","ticks":false,"domain":false,"grid":true,"gridColor":"#ececec","labelFontSize":7.5,"labelColor":"#333333","labelPadding":0,"labelAlign":"right","labelOverlap":false,"labelSeparation":0}},
"y2": {"datum":0},
"color": {"condition":{"test":"datum.a >= datum.pa","value":"#35a23c"},"value":"#e3262b"}
}
},
{
"data": {"values": [{"t":"07:00","a":0}], "format": {"parse": {"t":"date:'%H:%M'"}}},
"mark": {"type":"rule","color":"#ececec","strokeWidth":1},
"encoding": {"x": {"field":"t","type":"temporal"}}
},
{
"data": {"values": [
 {"t":"11:31:50","v":0,"txt":"0.0"},
 {"t":"11:31:50","v":-10,"txt":"-10.0"},
 {"t":"11:31:50","v":-20,"txt":"-20.0"}
], "format": {"parse": {"t":"date:'%H:%M:%S'"}}},
"mark": {"type":"text","align":"right","baseline":"middle","fontSize":7.5,"color":"#333333"},
"encoding": {"x": {"field":"t","type":"temporal"},"y": {"field":"v","type":"quantitative"},"text": {"field":"txt","type":"nominal"}}
},
{
"data": {"values": [{"t":"06:48:47","p":11.8,"txt":"AWSM  5  34  ×"}], "format": {"parse": {"t":"date:'%H:%M:%S'"}}},
"mark": {"type":"text","align":"left","baseline":"middle","fontSize":7.5,"font":"Roboto","color":"#555555"},
"encoding": {"x": {"field":"t","type":"temporal"},"y": {"field":"p","type":"quantitative"},"text": {"field":"txt","type":"nominal"}}
},
{
"data": {"values": [{"t":"06:47:20","p":-36.0,"txt":"Data is indicative"}], "format": {"parse": {"t":"date:'%H:%M:%S'"}}},
"mark": {"type":"text","align":"left","baseline":"middle","fontSize":5.5,"font":"Roboto","color":"#8a8a8a"},
"encoding": {"x": {"field":"t","type":"temporal"},"y": {"field":"p","type":"quantitative"},"text": {"field":"txt","type":"nominal"}}
},
{
"data": {"values": [{"t":"06:47:20","p":-46.4,"txt":"Thu 8 Nov"}], "format": {"parse": {"t":"date:'%H:%M:%S'"}}},
"mark": {"type":"text","align":"left","baseline":"middle","fontSize":8,"color":"#222222"},
"encoding": {"x": {"field":"t","type":"temporal"},"y": {"field":"p","type":"quantitative"},"text": {"field":"txt","type":"nominal"}}
}
]
},
{
"width": 625, "height": 18,
"layer": [
{
"data": {"values": [
{"d":"2018-09-30","v":12250},{"d":"2018-10-01","v":12300},{"d":"2018-10-02","v":12250},{"d":"2018-10-03","v":12300},
{"d":"2018-10-04","v":12200},{"d":"2018-10-05","v":12150},{"d":"2018-10-06","v":12100},{"d":"2018-10-07","v":12050},
{"d":"2018-10-08","v":11820},{"d":"2018-10-09","v":11900},{"d":"2018-10-10","v":11750},{"d":"2018-10-11","v":11620},
{"d":"2018-10-12","v":11650},{"d":"2018-10-13","v":11600},{"d":"2018-10-14","v":11650},{"d":"2018-10-15","v":12000},
{"d":"2018-10-16","v":12150},{"d":"2018-10-17","v":12100},{"d":"2018-10-18","v":12050},{"d":"2018-10-19","v":11950},
{"d":"2018-10-20","v":11900},{"d":"2018-10-21","v":11850},{"d":"2018-10-22","v":11420},{"d":"2018-10-23","v":11300},
{"d":"2018-10-24","v":11150},{"d":"2018-10-25","v":11250},{"d":"2018-10-26","v":11100},{"d":"2018-10-27","v":11200},
{"d":"2018-10-28","v":11300},{"d":"2018-10-29","v":11600},{"d":"2018-10-30","v":11600},{"d":"2018-10-31","v":11650},
{"d":"2018-11-01","v":11700},{"d":"2018-11-02","v":11750},{"d":"2018-11-03","v":11700},{"d":"2018-11-04","v":11750},
{"d":"2018-11-05","v":11820},{"d":"2018-11-06","v":11800},{"d":"2018-11-07","v":11850},{"d":"2018-11-08","v":11820}
], "format": {"parse": {"d":"date:'%Y-%m-%d'"}}},
"mark": {"type":"area","color":"#deeaf7","opacity":1,"line":{"color":"#a3c4e6","strokeWidth":1}},
"encoding": {
"x": {"field":"d","type":"temporal","scale":{"domain":[{"year":2018,"month":9,"date":29,"hours":15},{"year":2018,"month":11,"date":11,"hours":8}]},"axis":null},
"y": {"field":"v","type":"quantitative","scale":{"domain":[11000,12900],"zero":false,"nice":false},"axis":null},
"y2": {"datum":11000}
}
},
{
"data": {"values": [
{"d":"2018-09-30 07:30","lab":"Sep 2018"},{"d":"2018-10-08 00:00","lab":"Mon 8"},{"d":"2018-10-15 00:00","lab":"Mon 15"},
{"d":"2018-10-22 00:00","lab":"Mon 22"},{"d":"2018-10-29 00:00","lab":"Mon 29"},{"d":"2018-11-05 00:00","lab":"Nov 2018"}
], "format": {"parse": {"d":"date:'%Y-%m-%d %H:%M'"}}},
"layer": [
{"mark": {"type":"rule","color":"#aaa8c2","strokeWidth":1},
 "encoding": {"x": {"field":"d","type":"temporal"}}},
{"mark": {"type":"text","align":"left","baseline":"alphabetic","dx":3,"fontSize":7.5,"color":"#444444"},
 "encoding": {"x": {"field":"d","type":"temporal"},"y": {"datum":11250,"type":"quantitative"},"text": {"field":"lab","type":"nominal"}}}
]
},
{
"data": {"values": [
{"d1":"2018-09-29 15:20","d2":"2018-11-08 23:00"},{"d1":"2018-11-09 07:00","d2":"2018-11-11 07:40"}
], "format": {"parse": {"d1":"date:'%Y-%m-%d %H:%M'","d2":"date:'%Y-%m-%d %H:%M'"}}},
"mark": {"type":"rect","fill":"transparent","stroke":"#8b88a6","strokeWidth":1.5},
"encoding": {"x": {"field":"d1","type":"temporal"},"x2": {"field":"d2"},"y": {"datum":12900,"type":"quantitative"},"y2": {"datum":11000}}
}
]
}
]
}
